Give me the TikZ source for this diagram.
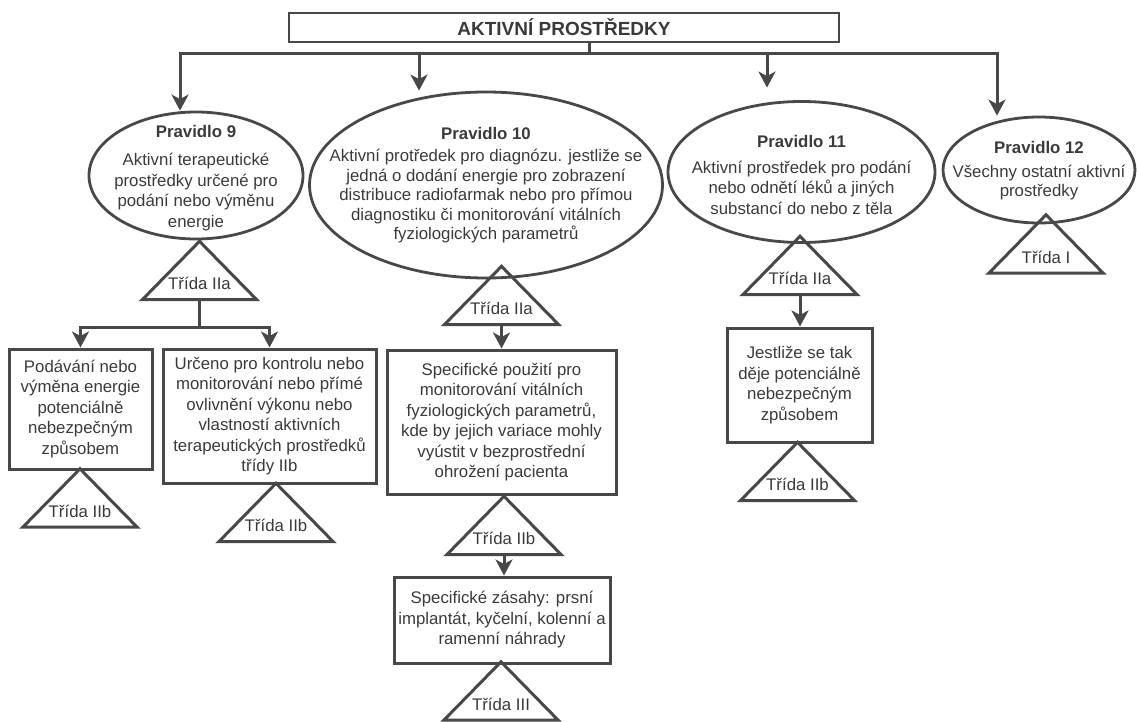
\documentclass[tikz,border=0pt]{standalone}
\usepackage{fontspec}
\setmainfont{Liberation Sans}
\usetikzlibrary{arrows.meta,shapes.geometric}
\definecolor{ink}{HTML}{3A3A3A}
\definecolor{edge}{HTML}{484848}

\begin{document}
\begin{tikzpicture}[x=1pt,y=-1pt,
  every node/.style={text=ink, font=\fontsize{16.8}{20.5}\selectfont, align=center, inner sep=0pt},
  edgeline/.style={draw=edge, line width=3pt},
  arr/.style={edgeline, -{Stealth[length=16pt,width=17pt,inset=4.5pt]}},
  rule/.style={draw=edge, line width=2.8pt, ellipse},
  ruletext/.style={text=ink, align=center},
  box/.style={draw=edge, line width=3pt, rectangle},
  tri/.style={minimum width=114pt, minimum height=58pt, text height=38pt, text depth=0pt},
]
\path[use as bounding box] (0,0) rectangle (1137,722);

% title
\node[box, line width=2.8pt, minimum width=550pt, minimum height=29pt,
      font=\bfseries\fontsize{19}{22}\selectfont] (top) at (564,27.5) {AKTIVNÍ PROSTŘEDKY};

% rules
\node[rule, minimum width=214pt, minimum height=127pt,
  label={[ruletext, yshift=-2.5pt]center:{{\bfseries Pravidlo 9}\\[8pt]Aktivní terapeutické\\prostředky určené pro\\podání nebo výměnu\\energie}}] (e9) at (196,175.5) {};
\node[rule, minimum width=353pt, minimum height=186pt,
  label={[ruletext, font=\fontsize{16.8}{19.5}\selectfont, yshift=-0.5pt]center:{{\bfseries Pravidlo 10}\\[2.5pt]Aktivní protředek pro diagnózu. jestliže se\\jedná o dodání energie pro zobrazení\\distribuce radiofarmak nebo pro přímou\\diagnostiku či monitorování vitálních\\fyziologických parametrů}}] (e10) at (486,185) {};
\node[rule, minimum width=267pt, minimum height=141pt,
  label={[ruletext, yshift=-2.5pt]center:{{\bfseries Pravidlo 11}\\[5.5pt]Aktivní prostředek pro podání\\nebo odnětí léků a jiných\\substancí do nebo z těla}}] (e11) at (801.5,172) {};
\node[rule, minimum width=192pt, minimum height=106pt,
  label={[ruletext, font=\fontsize{16.8}{19}\selectfont, yshift=-1pt]center:{{\bfseries Pravidlo 12}\\[5pt]Všechny ostatní aktivní\\prostředky}}] (e12) at (1039,170) {};

% class triangles
\node[tri] (t9)  at (199.5,270.5) {Třída IIa};
\node[tri] (t10) at (501.5,295.5) {Třída IIa};
\node[tri] (t11) at (800,265.5)   {Třída IIa};
\node[tri] (t12) at (1046,244)    {Třída I};
\node[tri] (tA)  at (80,498)      {Třída IIb};
\node[tri] (tB)  at (276,512.5)   {Třída IIb};
\node[tri] (tC)  at (504,525.5)   {Třída IIb};
\node[tri] (tD)  at (501,691)     {Třída III};
\node[tri] (tE)  at (797.5,471.5) {Třída IIb};
\foreach \t in {t9,t10,t11,t12,tA,tB,tC,tD,tE}
  \draw[edgeline, line join=miter] (\t.north) -- (\t.south east) -- (\t.south west) -- cycle;

% condition boxes
\node[box, minimum width=143pt, minimum height=120pt] (A) at (80.5,409)
  {Podávání nebo\\výměna energie\\potenciálně\\nebezpečným\\způsobem};
\node[box, minimum width=213pt, minimum height=134pt] (B) at (269.5,416)
  {Určeno pro kontrolu nebo\\monitorování nebo přímé\\ovlivnění výkonu nebo\\vlastností aktivních\\terapeutických prostředků\\třídy IIb};
\node[box, minimum width=229pt, minimum height=144pt] (C) at (501.5,422)
  {Specifické použití pro\\monitorování vitálních\\fyziologických parametrů,\\kde by jejich variace mohly\\vyústit v bezprostřední\\ohrožení pacienta};
\node[box, minimum width=216pt, minimum height=86pt] (D) at (502,620)
  {Specifické zásahy: prsní\\implantát, kyčelní, kolenní a\\ramenní náhrady};
\node[box, minimum width=145pt, minimum height=114pt] (E) at (799.5,385)
  {Jestliže se tak\\děje potenciálně\\nebezpečným\\způsobem};

% top distribution bus
\coordinate (j0)  at (589,54);
\coordinate (b9)  at (180,54);
\coordinate (b10) at (419,54);
\coordinate (b11) at (767,54);
\coordinate (b12) at (997,54);
\draw[edgeline] (top.south -| j0) -- (j0);
\draw[edgeline, line cap=rect] (b9) -- (b12);
\draw[arr] (b9)  -- (b9 |- e9.north);
\draw[arr] (b10) -- (b10 |- e10.north);
\draw[arr, shorten >=12.5pt] (b11) -- (b11 |- e11.north);
\draw[arr] (b12) -- (b12 |- e12.north);

% rule 9 split
\coordinate (j9) at (199.5,327);
\draw[edgeline] (t9.south) -- (j9);
\draw[edgeline, line cap=rect] (j9 -| A.north) -- (j9 -| B.north);
\draw[arr] (j9 -| A.north) -- (A.north);
\draw[arr] (j9 -| B.north) -- (B.north);

% chains below rules 10 and 11
\draw[arr] (t10.south) -- (t10.south |- C.north);
\draw[arr] (tC.south) -- (tC.south |- D.north);
\draw[arr] (t11.south) -- (t11.south |- E.north);
\end{tikzpicture}
\end{document}
